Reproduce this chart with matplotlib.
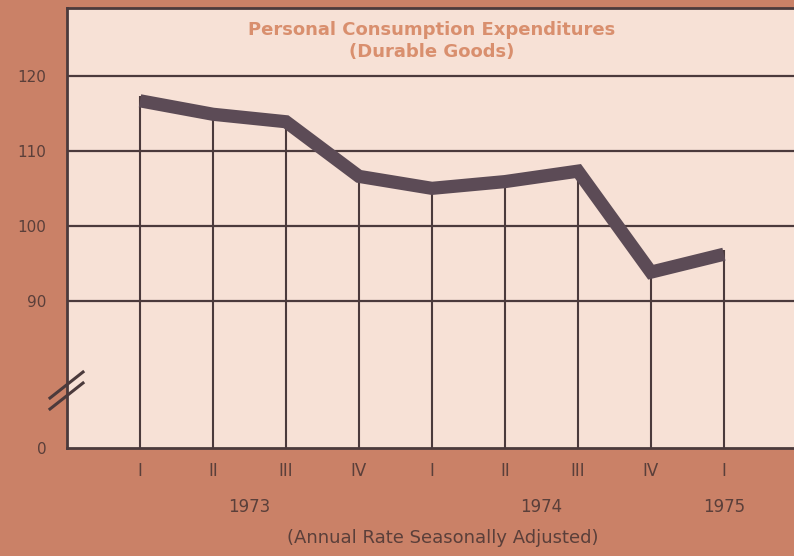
import matplotlib
matplotlib.use("Agg")
import matplotlib.pyplot as plt
from matplotlib.lines import Line2D

quarters = ["I", "II", "III", "IV", "I", "II", "III", "IV", "I"]
years = ["1973", "1974", "1975"]
year_pos = [1.5, 5.5, 8.0]
values = [116.7, 114.9, 113.9, 106.6, 105.0, 105.9, 107.3, 93.8, 96.2]
ytick_vals = [90, 100, 110, 120]
ytick_labels = ["90", "100", "110", "120"]
y_bottom = 70.3
y_top = 129.1

bg = "#ca8167"
plot_bg = "#f7e1d6"
dark = "#4b3a3c"
line_col = "#5c4b56"
title_col = "#d98f6e"
label_col = "#5a3f3a"

fig = plt.figure(figsize=(7.94, 5.56), dpi=100, facecolor=bg)
ax = fig.add_axes([67/794, 1-448/556, 1-67/794, (448-8)/556])
ax.set_facecolor(plot_bg)

x = list(range(len(values)))
ax.set_xlim(-1.0, 8.96)
ax.set_ylim(y_bottom, y_top)

for yv in ytick_vals:
    ax.axhline(yv, color=dark, lw=1.6, zorder=1)

ax.vlines(x, y_bottom, [v + 0.6 for v in values], color=dark, lw=1.5, zorder=2)
ax.plot(x, values, color=line_col, lw=9.5, solid_capstyle="butt",
        solid_joinstyle="miter", zorder=3)

for s in ["left", "bottom", "top"]:
    ax.spines[s].set_color(dark)
    ax.spines[s].set_linewidth(2)
ax.spines["right"].set_visible(False)

ax.set_yticks([y_bottom] + ytick_vals)
ax.set_yticklabels(["0"] + ytick_labels, color=label_col, fontsize=11)
ax.tick_params(axis="y", length=0, pad=15)
ax.set_xticks(x)
ax.set_xticklabels(quarters, color=label_col, fontsize=12)
ax.tick_params(axis="x", length=0, pad=10)

for yr, p in zip(years, year_pos):
    ax.text(p, -0.135, yr, transform=ax.get_xaxis_transform(), ha="center",
            va="center", color=label_col, fontsize=12)
ax.text(4.15, -0.205, "(Annual Rate Seasonally Adjusted)",
        transform=ax.get_xaxis_transform(), ha="center", va="center",
        color=label_col, fontsize=13)

ax.text(4.0, 0.949, "Personal Consumption Expenditures",
        transform=ax.get_xaxis_transform(), ha="center", va="center",
        color=title_col, fontsize=13, fontweight="bold")
ax.text(4.0, 0.899, "(Durable Goods)",
        transform=ax.get_xaxis_transform(), ha="center", va="center",
        color=title_col, fontsize=13, fontweight="bold")

# axis break marks
for dy in (0, 11):
    fig.add_artist(Line2D([50/794, 83/794],
                          [1-(398+dy)/556, 1-(372+dy)/556],
                          transform=fig.transFigure, color=dark, lw=2.2))

fig.savefig("out.png", dpi=100, facecolor=bg)
